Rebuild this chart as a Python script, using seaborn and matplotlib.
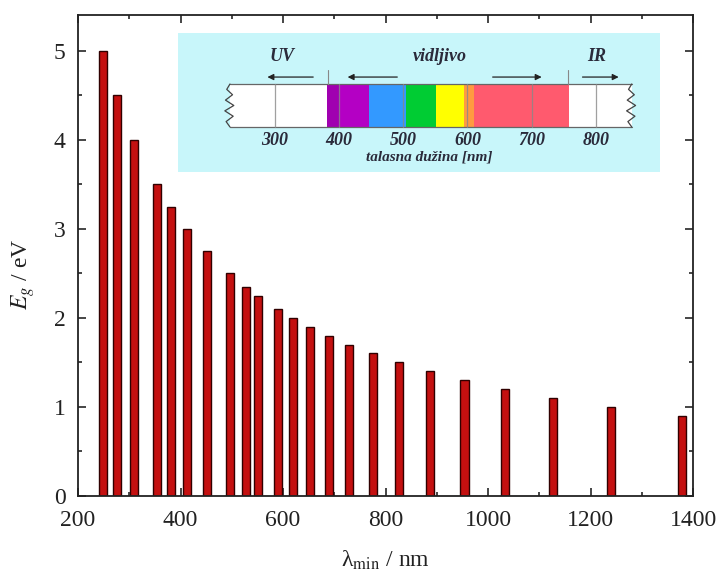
import numpy as np
import pandas as pd
import matplotlib
matplotlib.use('Agg')
import matplotlib.pyplot as plt
import seaborn as sns
from matplotlib.patches import Rectangle

# band gap energies (eV) and the matching cut-off wavelength (nm)
eg = [5.0, 4.5, 4.0, 3.5, 3.25, 3.0, 2.75, 2.5, 2.35, 2.25, 2.1, 2.0,
      1.9, 1.8, 1.7, 1.6, 1.5, 1.4, 1.3, 1.2, 1.1, 1.0, 0.9]
lam = [248, 276, 310, 354, 382, 413, 451, 496, 528, 551, 590, 620,
       653, 689, 729, 775, 827, 886, 954, 1033, 1127, 1240, 1378]

# visible spectrum strip in the inset
band_start = [381, 400, 447, 504, 551, 595, 610]
band_end = [400, 447, 504, 551, 595, 610, 758]
band_color = ['#a000b0', '#b400c4', '#3399ff', '#00cc33', '#ffff00', '#ff9a40', '#ff5a6e']
inset_ticks = [300, 400, 500, 600, 700, 800]

sns.set_style('ticks')
plt.rcParams['font.family'] = 'serif'
plt.rcParams['font.serif'] = ['Liberation Serif', 'DejaVu Serif']
plt.rcParams['mathtext.fontset'] = 'stix'

df = pd.DataFrame({'lam': lam, 'eg': eg})

fig = plt.figure(figsize=(7.22, 5.82), dpi=100)
ax = fig.add_axes([0.108, 0.148, 0.852, 0.826])
sns.barplot(data=df, x='lam', y='eg', native_scale=True, width=0.68,
            color='#c41010', saturation=1, edgecolor='#300000', linewidth=1.0, ax=ax)
ax.set_xlim(200, 1400)
ax.set_ylim(0, 5.4)
ax.set_xticks(range(200, 1401, 200))
ax.set_xticks(range(300, 1400, 200), minor=True)
ax.set_yticks(range(0, 6))
ax.set_yticks(np.arange(0.5, 5.4, 1.0), minor=True)
ax.tick_params(which='both', direction='in', top=True, right=True, labelsize=17, width=1.2,
               labelcolor='#222222')
ax.tick_params(which='major', length=6)
ax.tick_params(which='minor', length=3)
ax.tick_params(axis='x', pad=10)
ax.tick_params(axis='y', pad=9)
for s in ax.spines.values():
    s.set_linewidth(1.3)
    s.set_color('#222222')
ax.set_xlabel(u'λ$_{\\rm min}$ / nm', fontsize=17, color='#222222')
ax.set_ylabel(r'$E_g$ / eV', fontsize=17, color='#222222')
ax.xaxis.set_label_coords(0.5, -0.11)
ax.yaxis.set_label_coords(-0.066, 0.46)

# inset with the electromagnetic spectrum
ins = fig.add_axes([0.2465, 0.7045, 0.6676, 0.2388])
ins.set_facecolor('#c8f6fa')
ins.set_xlim(149, 900)
ins.set_ylim(0, 1)
ins.set_xticks([])
ins.set_yticks([])
for s in ins.spines.values():
    s.set_visible(False)

txt = '#2a2a3a'
y0, y1 = 0.324, 0.633
ins.add_patch(Rectangle((230, y0), 856 - 230, y1 - y0, facecolor='white', edgecolor='none'))
for a, b, c in zip(band_start, band_end, band_color):
    ins.add_patch(Rectangle((a, y0), b - a, y1 - y0, facecolor=c, edgecolor='none'))
ins.plot([230, 856], [y1, y1], color='#666666', lw=0.9)
ins.plot([230, 856], [y0, y0], color='#666666', lw=0.9)
zy = np.linspace(y0, y1, 9)
zx = np.array([0, -6, 5, -8, 6, -7, 4, -5, 0])
ins.plot(230 + zx, zy, color='#444444', lw=0.9)
ins.plot(856 + zx, zy, color='#444444', lw=0.9)
for t in inset_ticks:
    ins.plot([t, t], [y0, y1], color='#888888', lw=0.9, alpha=0.8)
    ins.text(t, 0.225, str(t), ha='center', va='center', fontsize=13,
             fontweight='bold', fontstyle='italic', color=txt)
ins.text(541, 0.105, u'talasna dužina [nm]', ha='center', va='center', fontsize=11,
         fontweight='bold', fontstyle='italic', color=txt)
for lbl, xx in [('UV', 311), ('vidljivo', 557), ('IR', 801)]:
    ins.text(xx, 0.83, lbl, ha='center', va='center', fontsize=13,
             fontweight='bold', fontstyle='italic', color=txt)
arrows = [(364, 284), (495, 409), (635, 720), (775, 840)]
for xs, xe in arrows:
    ins.annotate('', xy=(xe, 0.683), xytext=(xs, 0.683),
                 arrowprops=dict(arrowstyle='-|>', color='#222222', lw=0.9, mutation_scale=9))
for xx in [382, 756]:
    ins.plot([xx, xx], [y1, 0.734], color='#888888', lw=0.8)

fig.savefig('out.png', dpi=100)
